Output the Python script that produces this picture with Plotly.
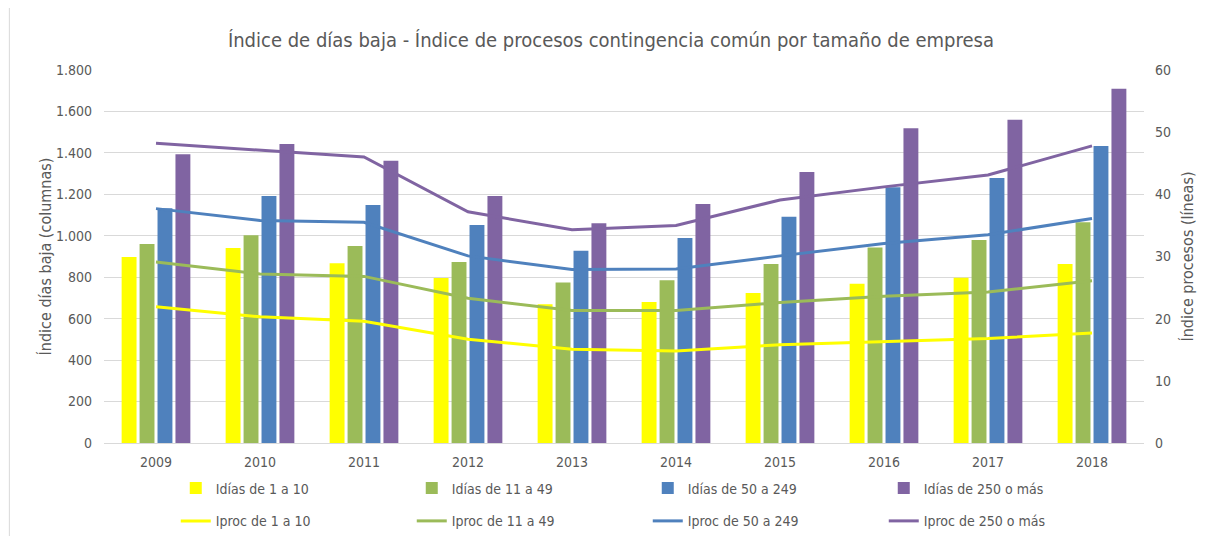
import plotly.graph_objects as go

years = ["2009", "2010", "2011", "2012", "2013", "2014", "2015", "2016", "2017", "2018"]

idias_1_10 = [897, 941, 867, 796, 669, 680, 724, 769, 798, 864]
idias_11_49 = [960, 1002, 951, 873, 774, 785, 864, 944, 980, 1065]
idias_50_249 = [1133, 1192, 1148, 1052, 928, 989, 1092, 1234, 1279, 1433]
idias_250 = [1393, 1443, 1362, 1192, 1060, 1153, 1308, 1519, 1560, 1710]

iproc_1_10 = [21.9, 20.3, 19.6, 16.7, 15.1, 14.8, 15.8, 16.3, 16.8, 17.7]
iproc_11_49 = [29.1, 27.2, 26.8, 23.3, 21.3, 21.3, 22.6, 23.6, 24.3, 26.1]
iproc_50_249 = [37.7, 35.8, 35.5, 30.1, 27.9, 28.0, 30.1, 32.1, 33.5, 36.1]
iproc_250 = [48.2, 47.1, 46.0, 37.2, 34.3, 35.0, 39.1, 41.2, 43.1, 47.8]

bar_names = ["Idías de 1 a 10", "Idías de 11 a 49", "Idías de 50 a 249", "Idías de 250 o más"]
line_names = ["Iproc de 1 a 10", "Iproc de 11 a 49", "Iproc de 50 a 249", "Iproc de 250 o más"]
colors = ["#FFFF00", "#9BBB59", "#4F81BD", "#8064A2"]

fig = go.Figure()
for name, vals, c in zip(bar_names, [idias_1_10, idias_11_49, idias_50_249, idias_250], colors):
    fig.add_trace(go.Bar(x=years, y=vals, name=name, marker=dict(color=c, line=dict(width=0)),
                         legend="legend"))
for name, vals, c in zip(line_names, [iproc_1_10, iproc_11_49, iproc_50_249, iproc_250], colors):
    fig.add_trace(go.Scatter(x=years, y=vals, name=name, mode="lines",
                             line=dict(color=c, width=3), yaxis="y2", legend="legend2"))

font_family = "DejaVu Sans Condensed, DejaVu Sans, sans-serif"
tick_col = "#595959"

fig.update_layout(
    width=1201, height=528,
    margin=dict(l=96, r=65, t=62, b=93, autoexpand=False),
    paper_bgcolor="white", plot_bgcolor="white",
    separators=",.",
    font=dict(family=font_family, color=tick_col, size=14),
    title=dict(text="Índice de días baja - Índice de procesos contingencia común por tamaño de empresa",
               x=0.502, xanchor="center", y=0.94, yanchor="middle",
               font=dict(size=20, color=tick_col, family=font_family)),
    barmode="group", bargap=0.31, bargroupgap=0.17,
    xaxis=dict(showgrid=False, showline=True, linecolor="#d9d9d9", ticks="",
               ticklabelstandoff=6, tickfont=dict(size=14, color=tick_col)),
    yaxis=dict(range=[0, 1800], dtick=200, tickformat=",", gridcolor="#d9d9d9", gridwidth=1,
               zeroline=False, showline=False, ticklabelstandoff=11,
               title=dict(text="Índice días baja (columnas)", font=dict(size=16, color=tick_col), standoff=0),
               tickfont=dict(size=14, color=tick_col)),
    yaxis2=dict(range=[0, 60], dtick=10, overlaying="y", side="right", showgrid=False, zeroline=False,
                ticklabelstandoff=10,
                title=dict(text="Índice procesos (líneas)", font=dict(size=16, color=tick_col), standoff=11),
                tickfont=dict(size=14, color=tick_col)),
    legend=dict(orientation="h", x=0.069, xanchor="left", y=-0.079, yanchor="top",
                entrywidth=191, entrywidthmode="pixels", font=dict(size=14, color=tick_col),
                traceorder="normal", bgcolor="rgba(0,0,0,0)"),
    legend2=dict(orientation="h", x=0.069, xanchor="left", y=-0.167, yanchor="top",
                 entrywidth=191, entrywidthmode="pixels", font=dict(size=14, color=tick_col),
                 traceorder="normal", bgcolor="rgba(0,0,0,0)"),
    shapes=[dict(type="line", xref="paper", yref="paper", x0=-0.091, x1=-0.091, y0=-0.3, y1=1.3,
                 line=dict(color="#d9d9d9", width=1))],
)

fig.write_html("out.html")
